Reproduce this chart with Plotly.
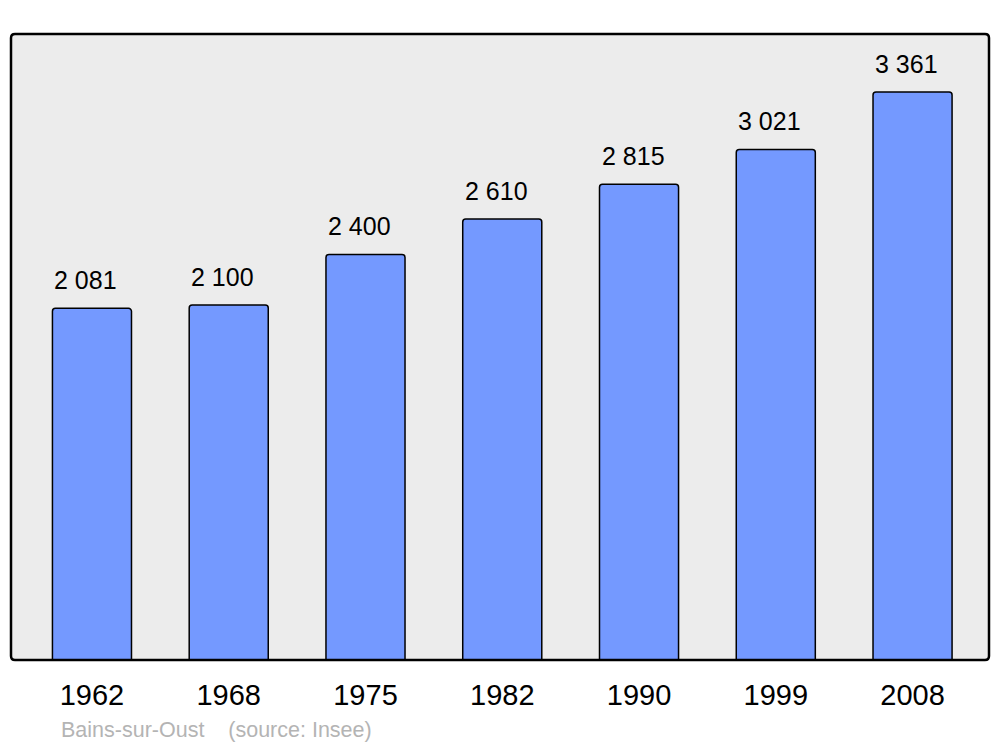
import plotly.graph_objects as go

years = ["1962", "1968", "1975", "1982", "1990", "1999", "2008"]
population = [2081, 2100, 2400, 2610, 2815, 3021, 3361]
value_labels = ["2 081", "2 100", "2 400", "2 610", "2 815", "3 021", "3 361"]
commune = "Bains-sur-Oust"
source = "(source: Insee)"

xpos = list(range(len(years)))
FONT = "Liberation Sans, Arial, sans-serif"

fig = go.Figure()
fig.add_trace(go.Bar(
    x=xpos, y=population, width=0.578,
    marker=dict(color="#7499ff", line=dict(color="black", width=1.5), cornerradius=3),
    hoverinfo="skip",
))

for x, v, t in zip(xpos, population, value_labels):
    fig.add_annotation(x=x, y=v, text=t, showarrow=False, yanchor="bottom",
                       yshift=12, xshift=-6, font=dict(family=FONT, size=25, color="black"))

fig.add_annotation(xref="paper", yref="paper", x=0.049, y=-0.112,
                   text=commune + "&nbsp;&nbsp;&nbsp;&nbsp;" + source,
                   showarrow=False, xanchor="left", yanchor="middle",
                   font=dict(family=FONT, size=21.5, color="#b4b4b4"))

# rounded plot frame
rx, ry = 4 / 978, 4 / 626
path = (f"M {rx},0 L {1-rx},0 Q 1,0 1,{ry} L 1,{1-ry} Q 1,1 {1-rx},1 "
        f"L {rx},1 Q 0,1 0,{1-ry} L 0,{ry} Q 0,0 {rx},0 Z")
fig.add_shape(type="path", xref="paper", yref="paper", path=path,
              line=dict(color="black", width=2.5), layer="above")

fig.update_layout(
    width=1000, height=747,
    margin=dict(l=11, r=11, t=34, b=87),
    paper_bgcolor="white", plot_bgcolor="#ececec",
    showlegend=False,
    font=dict(family=FONT),
    xaxis=dict(range=[-0.592, 6.559], tickvals=xpos, ticktext=years,
               showgrid=False, zeroline=False, showline=False,
               ticks="outside", ticklen=9, tickcolor="rgba(0,0,0,0)",
               tickfont=dict(family=FONT, size=29, color="black"), fixedrange=True),
    yaxis=dict(range=[0, 3704], showgrid=False, zeroline=False, showline=False,
               showticklabels=False, fixedrange=True),
)

fig.write_html("out.html", config={"displayModeBar": False},
               post_script="document.body.style.margin='0';document.body.style.padding='0';")
